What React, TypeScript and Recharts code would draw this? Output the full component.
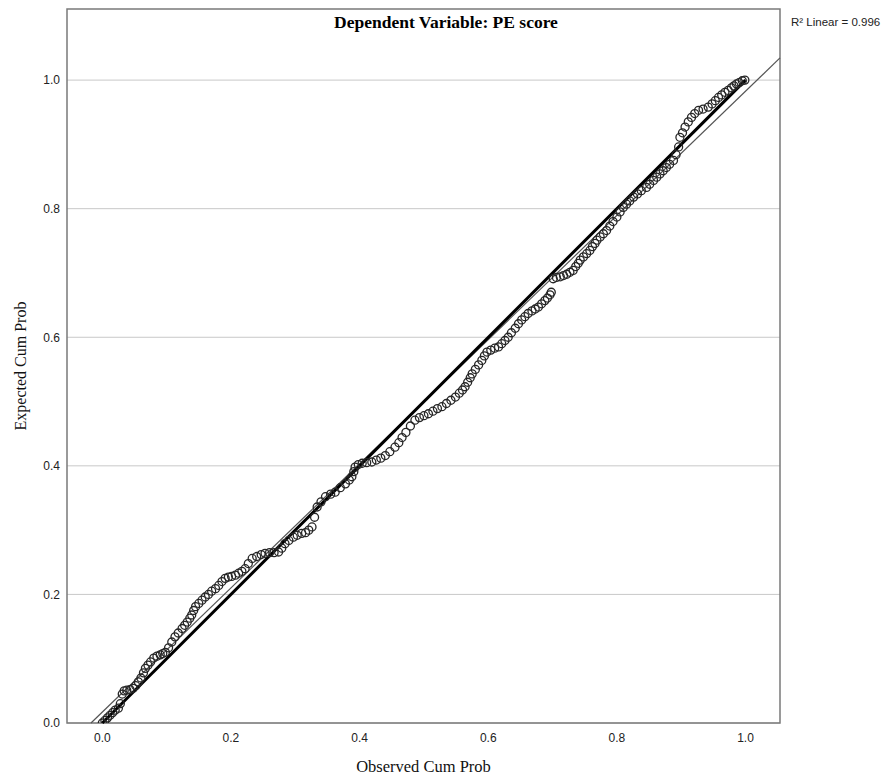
import React from 'react';
import {
  ScatterChart,
  Scatter,
  XAxis,
  YAxis,
  CartesianGrid,
  ReferenceLine,
  ReferenceArea,
} from 'recharts';

// Observed cumulative probability (x)
const observedCumProb = [
  0.000, 0.004, 0.008, 0.012, 0.016, 0.020, 0.025, 0.028, 0.031, 0.034,
  0.038, 0.043, 0.048, 0.052, 0.056, 0.060, 0.064, 0.067, 0.071, 0.075,
  0.080, 0.085, 0.090, 0.094, 0.098, 0.103, 0.108, 0.113, 0.118, 0.124,
  0.128, 0.132, 0.136, 0.139, 0.142, 0.145, 0.150, 0.155, 0.160, 0.165,
  0.170, 0.176, 0.181, 0.186, 0.191, 0.196, 0.201, 0.207, 0.212, 0.217,
  0.222, 0.227, 0.233, 0.240, 0.247, 0.253, 0.260, 0.267, 0.274, 0.279,
  0.284, 0.290, 0.297, 0.303, 0.310, 0.316, 0.321, 0.326, 0.330, 0.334,
  0.340, 0.347, 0.355, 0.362, 0.370, 0.378, 0.384, 0.388, 0.391, 0.393,
  0.398, 0.404, 0.411, 0.419, 0.426, 0.433, 0.440, 0.447, 0.455, 0.461,
  0.466, 0.472, 0.479, 0.486, 0.493, 0.500, 0.507, 0.514, 0.521, 0.528,
  0.535, 0.542, 0.549, 0.555, 0.560, 0.564, 0.568, 0.572, 0.575, 0.580,
  0.585, 0.590, 0.594, 0.598, 0.604, 0.610, 0.616, 0.621, 0.626, 0.631,
  0.636, 0.642, 0.647, 0.652, 0.657, 0.662, 0.668, 0.673, 0.678, 0.683,
  0.688, 0.692, 0.696, 0.698, 0.701, 0.706, 0.712, 0.717, 0.722, 0.727,
  0.732, 0.736, 0.740, 0.743, 0.748, 0.753, 0.758, 0.762, 0.766, 0.769,
  0.774, 0.779, 0.784, 0.789, 0.794, 0.800, 0.805, 0.810, 0.815, 0.820,
  0.826, 0.832, 0.838, 0.846, 0.851, 0.857, 0.862, 0.867, 0.872, 0.877,
  0.882, 0.888, 0.892, 0.896, 0.898, 0.902, 0.906, 0.911, 0.916, 0.921,
  0.927, 0.934, 0.942, 0.948, 0.953, 0.958, 0.963, 0.968, 0.973, 0.978,
  0.982, 0.986, 0.990, 0.995, 0.999,
];

// Expected cumulative probability (y)
const expectedCumProb = [
  0.000, 0.004, 0.008, 0.012, 0.016, 0.020, 0.023, 0.030, 0.045, 0.050,
  0.051, 0.052, 0.054, 0.058, 0.064, 0.070, 0.078, 0.085, 0.090, 0.095,
  0.101, 0.104, 0.106, 0.108, 0.110, 0.117, 0.126, 0.134, 0.140, 0.147,
  0.152, 0.157, 0.163, 0.168, 0.175, 0.181, 0.186, 0.191, 0.196, 0.200,
  0.205, 0.209, 0.214, 0.220, 0.225, 0.227, 0.228, 0.230, 0.233, 0.236,
  0.240, 0.248, 0.256, 0.259, 0.262, 0.264, 0.265, 0.265, 0.266, 0.272,
  0.279, 0.284, 0.289, 0.292, 0.295, 0.296, 0.300, 0.305, 0.320, 0.336,
  0.344, 0.352, 0.356, 0.359, 0.366, 0.372, 0.378, 0.383, 0.391, 0.398,
  0.402, 0.404, 0.405, 0.406, 0.409, 0.412, 0.416, 0.422, 0.429, 0.436,
  0.444, 0.452, 0.462, 0.471, 0.475, 0.478, 0.481, 0.485, 0.489, 0.492,
  0.497, 0.502, 0.507, 0.513, 0.518, 0.523, 0.530, 0.537, 0.543, 0.550,
  0.557, 0.564, 0.571, 0.577, 0.580, 0.583, 0.585, 0.590, 0.595, 0.600,
  0.607, 0.614, 0.621, 0.627, 0.632, 0.637, 0.641, 0.644, 0.647, 0.652,
  0.657, 0.661, 0.666, 0.670, 0.691, 0.693, 0.694, 0.696, 0.698, 0.701,
  0.704, 0.710, 0.715, 0.720, 0.725, 0.730, 0.735, 0.741, 0.746, 0.751,
  0.756, 0.761, 0.766, 0.773, 0.780, 0.787, 0.795, 0.802, 0.807, 0.812,
  0.818, 0.823, 0.828, 0.833, 0.838, 0.844, 0.849, 0.854, 0.859, 0.864,
  0.869, 0.875, 0.884, 0.896, 0.911, 0.918, 0.927, 0.935, 0.942, 0.948,
  0.953, 0.955, 0.958, 0.963, 0.968, 0.973, 0.977, 0.981, 0.984, 0.988,
  0.991, 0.994, 0.996, 0.999, 1.000,
];

const xTicks = [0, 0.2, 0.4, 0.6, 0.8, 1.0];
const yTicks = [0, 0.2, 0.4, 0.6, 0.8, 1.0];
const xDomain = [-0.0549, 1.0536];
const yDomain = [0, 1.1106];

// Diagonal reference (thick) and linear fit (thin) endpoints
const diagonalLine = [
  { x: 0, y: 0 },
  { x: 1, y: 1 },
];
const fitLine = [
  { x: -0.0176, y: 0 },
  { x: 1.0536, y: 1.0345 },
];

const titleText = 'Dependent Variable: PE score';
const r2Text = 'R\u00B2 Linear = 0.996';
const xLabel = 'Observed Cum Prob';
const yLabel = 'Expected Cum Prob';

const points = observedCumProb.map((x, i) => ({ x, y: expectedCumProb[i] }));

const OpenCircle = (props: any) => {
  const { cx, cy } = props;
  if (cx == null || cy == null) return <g />;
  return <circle cx={cx} cy={cy} r={4} fill="none" stroke="#262626" strokeWidth={1.3} />;
};

const fmt = (v: number) => v.toFixed(1);

export default function App() {
  return (
    <div style={{ position: 'relative', width: 887, height: 780, overflow: 'hidden' }}>
      <style>{'html,body{margin:0;padding:0;overflow:hidden;}'}</style>
      <ScatterChart
        width={887}
        height={780}
        margin={{ top: 9, right: 107, bottom: 0, left: 0 }}
      >
        <CartesianGrid vertical={false} horizontalValues={yTicks} stroke="#c8c8c8" strokeWidth={1} />
        <XAxis
          type="number"
          dataKey="x"
          domain={xDomain}
          allowDataOverflow
          ticks={xTicks}
          tickFormatter={fmt}
          tickLine={false}
          axisLine={false}
          tickSize={6}
          tickMargin={4}
          height={57}
          tick={{ fontSize: 12, fill: '#222', fontFamily: 'Liberation Sans, Arial, sans-serif' }}
          label={{
            value: xLabel,
            position: 'insideBottom',
            offset: 8,
            style: { fontSize: 16.5, fill: '#111', fontFamily: 'Liberation Serif, Times New Roman, serif' },
          }}
        />
        <YAxis
          type="number"
          dataKey="y"
          domain={yDomain}
          allowDataOverflow
          ticks={yTicks}
          tickFormatter={fmt}
          tickLine={false}
          axisLine={false}
          tickSize={4}
          tickMargin={3}
          width={67}
          tick={{ fontSize: 12, fill: '#222', fontFamily: 'Liberation Sans, Arial, sans-serif' }}
          label={{
            value: yLabel,
            angle: -90,
            position: 'insideLeft',
            offset: 20,
            style: { fontSize: 16, fill: '#111', textAnchor: 'middle', fontFamily: 'Liberation Serif, Times New Roman, serif' },
          }}
        />
        <ReferenceArea
          x1={xDomain[0]}
          x2={xDomain[1]}
          y1={yDomain[0]}
          y2={yDomain[1]}
          fill="none"
          stroke="#7a7a7a"
          strokeWidth={1.5}
        />
        <ReferenceLine segment={fitLine} stroke="#555" strokeWidth={1.2} />
        <ReferenceLine segment={diagonalLine} stroke="#000" strokeWidth={3} />
        <Scatter data={points} shape={OpenCircle} isAnimationActive={false} />
      </ScatterChart>
      <div
        style={{
          position: 'absolute',
          left: 246,
          width: 400,
          top: 13,
          textAlign: 'center',
          fontFamily: 'Liberation Serif, Times New Roman, serif',
          fontWeight: 'bold',
          fontSize: 17.5,
          lineHeight: '18px',
          color: '#000',
        }}
      >
        {titleText}
      </div>
      <div
        style={{
          position: 'absolute',
          left: 791,
          top: 16,
          fontFamily: 'Liberation Sans, Arial, sans-serif',
          fontSize: 11.5,
          lineHeight: '12px',
          color: '#222',
          whiteSpace: 'nowrap',
        }}
      >
        {r2Text}
      </div>
    </div>
  );
}
